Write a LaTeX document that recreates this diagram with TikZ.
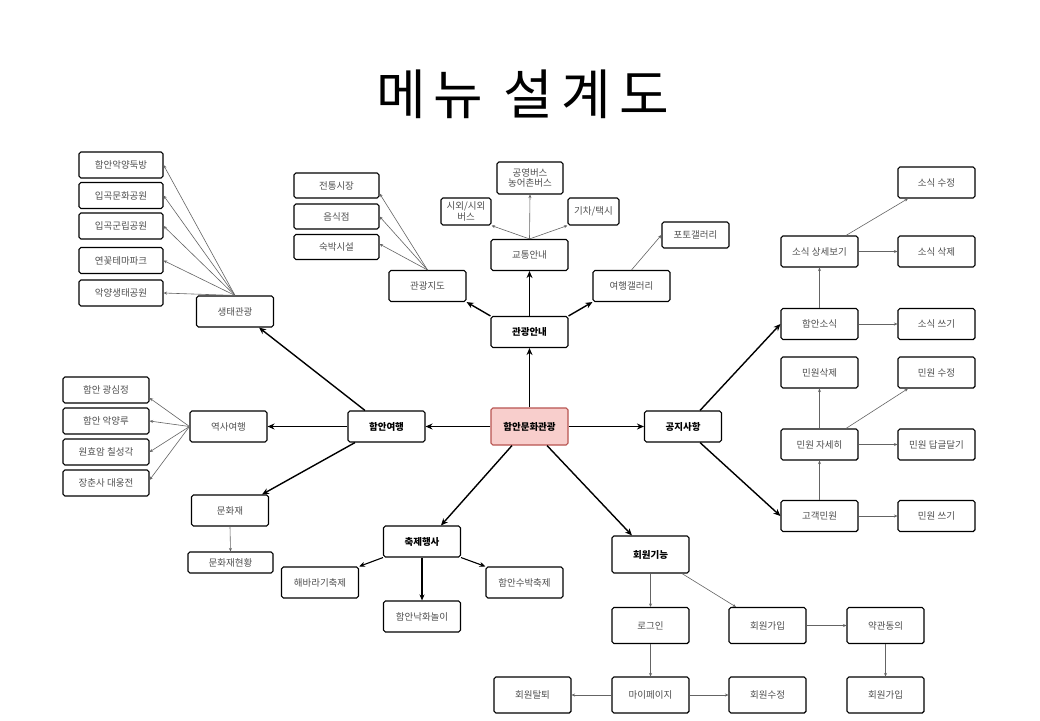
\documentclass[tikz,border=0pt]{standalone}
\usepackage{fontspec}
\setmainfont{Noto Sans CJK KR}
\newfontfamily\titlefont[LetterSpace=15]{Noto Sans CJK KR}
\usetikzlibrary{arrows.meta}
\definecolor{txtgray}{RGB}{80,80,80}
\definecolor{linegray}{RGB}{100,100,100}
\definecolor{pinkfill}{RGB}{248,206,204}
\definecolor{pinkdraw}{RGB}{184,84,80}
\begin{document}
\begin{tikzpicture}[x=1pt,y=-1pt,
  box/.style={draw=black, line width=1.1pt, rounded corners=1.8pt, fill=white, text=txtgray,
    font=\fontsize{9.5}{11.5}\selectfont, inner sep=0pt, minimum width=77pt, minimum height=31pt, align=center},
  bbox/.style={box, text=black, font=\fontsize{9.5}{11.5}\selectfont\bfseries},
  sbox/.style={box, minimum width=85pt, minimum height=26pt},
  mbox/.style={box, minimum height=36pt},
  mainarr/.style={-{Stealth[length=7pt,width=6pt]}, line width=1.4pt, draw=black},
  midarr/.style={-{Stealth[length=6pt,width=5pt]}, line width=1.1pt, draw=black},
  subarr/.style={-{Stealth[length=3.5pt,width=3pt]}, line width=0.6pt, draw=linegray},
]
\fill[white] (0,0) rectangle (1040,720);
\useasboundingbox (0,0) rectangle (1040,720);

\node[font=\titlefont\fontsize{54}{60}\selectfont, text=black] (title) at (522.5,94) {메뉴 설계도};

% center
\node[bbox, fill=pinkfill, draw=pinkdraw, minimum height=37pt] (center) at (529.5,426.5) {함안문화관광};

% 관광안내 branch
\node[bbox] (gwan) at (529.5,332) {관광안내};
\node[box] (jido) at (427.5,286) {관광지도};
\node[box] (gyo) at (529.5,255) {교통안내};
\node[box] (yg) at (631.5,286) {여행갤러리};
\node[sbox, minimum height=25pt] (jt) at (336.5,185.5) {전통시장};
\node[sbox, minimum height=25pt] (um) at (336.5,216.5) {음식점};
\node[sbox, minimum height=25pt] (suk) at (336.5,247) {숙박시설};
\node[box, minimum width=50pt, minimum height=27pt, font=\fontsize{9.5}{10.5}\selectfont] (sioe) at (466,211.5) {시외/시외\\버스};
\node[box, minimum width=66pt, minimum height=32pt, font=\fontsize{9.5}{10.5}\selectfont] (gong) at (530,178) {공영버스\\농어촌버스};
\node[box, minimum width=51pt, minimum height=27pt] (gicha) at (593.5,211.5) {기차/택시};
\node[box, minimum width=67pt, minimum height=26pt] (photo) at (695.5,235) {포토갤러리};

% 함안여행 branch
\node[bbox] (hy) at (386.5,426.5) {함안여행};
\node[box] (saeng) at (235,311.5) {생태관광};
\node[box] (yeok) at (228.5,426.5) {역사여행};
\node[box] (mun) at (230,510.5) {문화재};
\node[box, minimum width=85pt, minimum height=21pt] (munh) at (230.5,562.5) {문화재현황};
\node[sbox, minimum width=84pt] (s1) at (121,165) {함안악양둑방};
\node[sbox, minimum width=84pt] (s2) at (121,195.5) {입곡문화공원};
\node[sbox, minimum width=84pt] (s3) at (121,226) {입곡군립공원};
\node[sbox, minimum width=84pt] (s4) at (121,260.5) {연꽃테마파크};
\node[sbox, minimum width=84pt] (s5) at (121,293) {악양생태공원};
\node[sbox, minimum width=86pt] (y1) at (106,390) {함안 광심정};
\node[sbox, minimum width=86pt] (y2) at (106,421) {함안 악양루};
\node[sbox, minimum width=86pt] (y3) at (106,452) {원효암 칠성각};
\node[sbox, minimum width=86pt] (y4) at (106,483) {장춘사 대웅전};

% 축제행사 branch
\node[bbox] (chuk) at (422,541.5) {축제행사};
\node[box] (haeb) at (320,582.5) {해바라기축제};
\node[box] (nak) at (422,616.5) {함안낙화놀이};
\node[box] (subak) at (524.5,582.5) {함안수박축제};

% 공지사항 branch
\node[bbox] (gongji) at (683,426.5) {공지사항};
\node[box] (hso) at (819.5,324) {함안소식};
\node[box] (sang) at (819.5,251.5) {소식 상세보기};
\node[box] (ssu) at (936.5,182.5) {소식 수정};
\node[box] (ssak) at (936.5,251.5) {소식 삭제};
\node[box] (sseu) at (936.5,324) {소식 쓰기};
\node[box] (msak) at (819.5,372.5) {민원삭제};
\node[box] (msu) at (936.5,372.5) {민원 수정};
\node[box] (mja) at (819.5,444.5) {민원 자세히};
\node[box] (mdap) at (936.5,444.5) {민원 답글달기};
\node[box] (gogaek) at (819.5,516) {고객민원};
\node[box] (mseu) at (936.5,516) {민원 쓰기};

% 회원기능 branch
\node[bbox, minimum height=37pt] (hoe) at (650.5,554.5) {회원기능};
\node[mbox] (login) at (650.5,625.5) {로그인};
\node[mbox] (gaip) at (767.5,625.5) {회원가입};
\node[mbox] (yak) at (885.5,625.5) {약관동의};
\node[mbox] (my) at (650.5,695) {마이페이지};
\node[mbox] (tal) at (532.5,695) {회원탈퇴};
\node[mbox] (hsu) at (767.5,695) {회원수정};
\node[mbox] (gaip2) at (885.5,695) {회원가입};

% main arrows
\draw[mainarr] (center.north) -- (gwan.south);
\draw[mainarr] (center.west) -- (hy.east);
\draw[mainarr] (center.east) -- (gongji.west);
\draw[mainarr] ([xshift=-17.5pt]center.south) -- ([xshift=19pt]chuk.north);
\draw[mainarr] ([xshift=17.5pt]center.south) -- ([xshift=-18.5pt]hoe.north);
\draw[mainarr] (gwan.north west) -- (jido.south east);
\draw[mainarr] (gwan.north) -- (gyo.south);
\draw[mainarr] (gwan.north east) -- (yg.south west);
\draw[mainarr] ([xshift=-21.5pt]hy.north) -- ([xshift=24pt]saeng.south);
\draw[mainarr] (hy.west) -- (yeok.east);
\draw[mainarr] ([xshift=-31.5pt]hy.south) -- ([xshift=32pt]mun.north);
\draw[mainarr] ([xshift=17pt]gongji.north) -- (hso.west);
\draw[mainarr] ([xshift=17pt]gongji.south) -- (gogaek.west);
\draw[midarr] (chuk.south west) -- (haeb.north east);
\draw[midarr] (chuk.south) -- (nak.north);
\draw[midarr] (chuk.south east) -- (subak.north west);

% sub arrows
\foreach \t in {s1,s2,s3,s4,s5} \draw[subarr] (saeng.north) -- (\t.east);
\draw[subarr] (jido.north) -- ([yshift=-8pt]jt.east);
\draw[subarr] (jido.north) -- (um.east);
\draw[subarr] (jido.north) -- ([yshift=3pt]suk.east);
\draw[subarr] (gyo.north) -- (sioe.south east);
\draw[subarr] (gyo.north) -- (gong.south);
\draw[subarr] (gyo.north) -- (gicha.south west);
\draw[subarr] (yg.north) -- (photo.west);
\draw[subarr] (yeok.west) -- ([yshift=-8pt]y1.east);
\draw[subarr] (yeok.west) -- (y2.east);
\draw[subarr] (yeok.west) -- (y3.east);
\draw[subarr] (yeok.west) -- ([yshift=3pt]y4.east);
\draw[subarr] (mun.south) -- (munh.north);
\draw[subarr] (hso.north) -- (sang.south);
\draw[subarr] (hso.east) -- (sseu.west);
\draw[subarr] (sang.east) -- (ssak.west);
\draw[subarr] ([xshift=26.5pt]sang.north) -- ([xshift=-28.5pt]ssu.south);
\draw[subarr] (gogaek.north) -- (mja.south);
\draw[subarr] (gogaek.east) -- (mseu.west);
\draw[subarr] (mja.north) -- (msak.south);
\draw[subarr] (mja.east) -- (mdap.west);
\draw[subarr] ([xshift=26.5pt]mja.north) -- ([xshift=-28.5pt]msu.south);
\draw[subarr] (hoe.south) -- (login.north);
\draw[subarr] ([xshift=31.5pt]hoe.south) -- ([xshift=-31.5pt]gaip.north);
\draw[subarr] (login.south) -- (my.north);
\draw[subarr] (my.west) -- (tal.east);
\draw[subarr] (my.east) -- (hsu.west);
\draw[subarr] (gaip.east) -- (yak.west);
\draw[subarr] (yak.south) -- (gaip2.north);
\end{tikzpicture}
\end{document}
